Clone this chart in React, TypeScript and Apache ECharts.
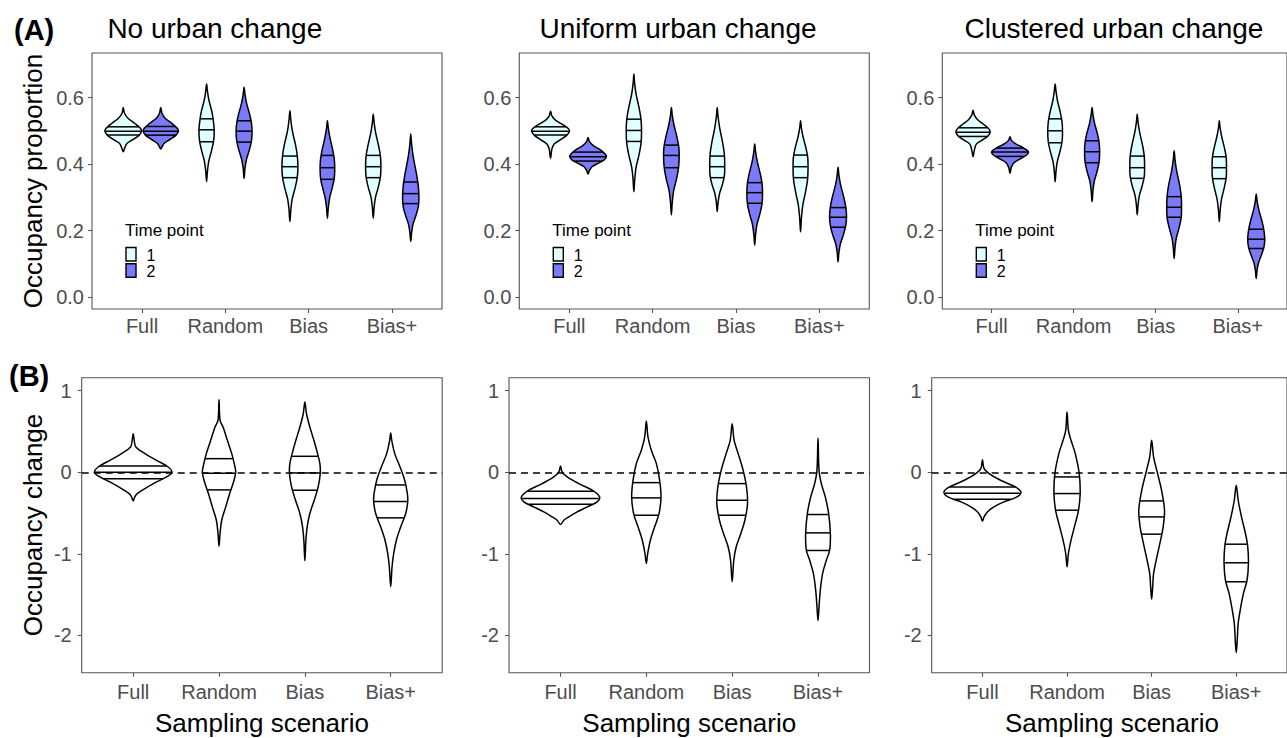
import React, { useEffect, useRef } from "react";
import * as echarts from "echarts";

// ---------- DATA ----------
const scenarios = ["Full", "Random", "Bias", "Bias+"];
const panelTitles = ["No urban change", "Uniform urban change", "Clustered urban change"];
const timePoints = ["1", "2"];
const topTicks = [0, 0.2, 0.4, 0.6];
const bottomTicks = [-2, -1, 0, 1];

// Violin profiles: [value, half-width in category units], listed from top tip to bottom tip.
// Row A: occupancy proportion, time point 1 and 2
const noChangeT1 = [
  [[0.570, 0], [0.552, 0.016], [0.537, 0.06], [0.522, 0.14], [0.507, 0.208], [0.499, 0.22], [0.487, 0.192], [0.474, 0.12], [0.462, 0.044], [0.447, 0.016], [0.437, 0]],
  [[0.641, 0], [0.620, 0.01], [0.592, 0.028], [0.557, 0.064], [0.528, 0.082], [0.500, 0.092], [0.469, 0.084], [0.439, 0.058], [0.408, 0.026], [0.378, 0.01], [0.347, 0]],
  [[0.560, 0], [0.535, 0.01], [0.501, 0.028], [0.459, 0.066], [0.426, 0.088], [0.392, 0.096], [0.359, 0.088], [0.326, 0.06], [0.293, 0.026], [0.260, 0.01], [0.227, 0]],
  [[0.550, 0], [0.526, 0.01], [0.495, 0.028], [0.455, 0.064], [0.424, 0.086], [0.392, 0.092], [0.361, 0.086], [0.330, 0.06], [0.299, 0.026], [0.268, 0.01], [0.237, 0]],
];
const noChangeT1Q = [[0.487, 0.499, 0.512], [0.467, 0.503, 0.536], [0.359, 0.392, 0.424], [0.359, 0.392, 0.426]];

const noChangeT2 = [
  [[0.570, 0], [0.552, 0.016], [0.537, 0.056], [0.522, 0.136], [0.507, 0.2], [0.499, 0.212], [0.487, 0.184], [0.474, 0.112], [0.462, 0.04], [0.452, 0.016], [0.445, 0]],
  [[0.631, 0], [0.611, 0.01], [0.583, 0.03], [0.550, 0.066], [0.524, 0.088], [0.497, 0.096], [0.469, 0.088], [0.441, 0.062], [0.413, 0.028], [0.385, 0.01], [0.357, 0]],
  [[0.530, 0], [0.509, 0.01], [0.480, 0.03], [0.444, 0.062], [0.416, 0.082], [0.387, 0.088], [0.357, 0.082], [0.327, 0.056], [0.297, 0.026], [0.267, 0.01], [0.237, 0]],
  [[0.490, 0], [0.461, 0.01], [0.422, 0.03], [0.374, 0.066], [0.336, 0.09], [0.297, 0.098], [0.271, 0.09], [0.245, 0.062], [0.220, 0.028], [0.193, 0.01], [0.167, 0]],
];
const noChangeT2Q = [[0.487, 0.499, 0.513], [0.466, 0.499, 0.530], [0.354, 0.389, 0.426], [0.281, 0.311, 0.346]];

const uniformT1 = [
  [[0.559, 0], [0.545, 0.016], [0.532, 0.06], [0.519, 0.144], [0.507, 0.212], [0.499, 0.228], [0.487, 0.196], [0.474, 0.124], [0.460, 0.044], [0.445, 0.016], [0.430, 0.008], [0.417, 0]],
  [[0.671, 0], [0.645, 0.008], [0.611, 0.026], [0.567, 0.064], [0.533, 0.086], [0.499, 0.092], [0.463, 0.086], [0.426, 0.06], [0.390, 0.026], [0.353, 0.01], [0.317, 0]],
  [[0.570, 0], [0.543, 0.01], [0.508, 0.03], [0.463, 0.066], [0.428, 0.086], [0.392, 0.09], [0.365, 0.086], [0.338, 0.062], [0.311, 0.028], [0.284, 0.01], [0.257, 0]],
  [[0.530, 0], [0.509, 0.01], [0.482, 0.03], [0.447, 0.066], [0.420, 0.086], [0.392, 0.09], [0.353, 0.084], [0.314, 0.058], [0.275, 0.026], [0.236, 0.01], [0.196, 0]],
];
const uniformT1Q = [[0.487, 0.499, 0.512], [0.468, 0.501, 0.535], [0.359, 0.392, 0.424], [0.359, 0.392, 0.427]];

const uniformT2 = [
  [[0.480, 0], [0.468, 0.016], [0.456, 0.06], [0.444, 0.14], [0.430, 0.205], [0.422, 0.22], [0.412, 0.19], [0.402, 0.12], [0.392, 0.048], [0.380, 0.016], [0.370, 0]],
  [[0.570, 0], [0.548, 0.01], [0.519, 0.03], [0.482, 0.066], [0.453, 0.088], [0.429, 0.094], [0.389, 0.086], [0.353, 0.06], [0.318, 0.026], [0.282, 0.01], [0.247, 0]],
  [[0.460, 0], [0.438, 0.01], [0.408, 0.03], [0.371, 0.066], [0.342, 0.088], [0.312, 0.094], [0.281, 0.088], [0.250, 0.062], [0.219, 0.028], [0.187, 0.01], [0.156, 0]],
  [[0.390, 0], [0.368, 0.01], [0.338, 0.03], [0.301, 0.068], [0.272, 0.092], [0.242, 0.102], [0.215, 0.092], [0.187, 0.064], [0.160, 0.028], [0.133, 0.01], [0.106, 0]],
];
const uniformT2Q = [[0.409, 0.422, 0.436], [0.389, 0.426, 0.457], [0.282, 0.314, 0.344], [0.210, 0.240, 0.269]];

const clusteredT1 = [
  [[0.562, 0], [0.547, 0.016], [0.533, 0.056], [0.519, 0.13], [0.505, 0.195], [0.495, 0.208], [0.484, 0.18], [0.472, 0.112], [0.460, 0.04], [0.442, 0.016], [0.422, 0]],
  [[0.641, 0], [0.620, 0.01], [0.591, 0.028], [0.554, 0.064], [0.526, 0.084], [0.497, 0.09], [0.467, 0.084], [0.437, 0.058], [0.407, 0.026], [0.377, 0.01], [0.347, 0]],
  [[0.550, 0], [0.526, 0.01], [0.495, 0.03], [0.455, 0.066], [0.424, 0.086], [0.392, 0.09], [0.363, 0.086], [0.334, 0.06], [0.305, 0.026], [0.276, 0.01], [0.247, 0]],
  [[0.530, 0], [0.509, 0.01], [0.482, 0.03], [0.447, 0.064], [0.420, 0.084], [0.392, 0.088], [0.359, 0.084], [0.326, 0.058], [0.293, 0.026], [0.260, 0.01], [0.227, 0]],
];
const clusteredT1Q = [[0.483, 0.496, 0.509], [0.464, 0.500, 0.536], [0.357, 0.389, 0.424], [0.356, 0.389, 0.422]];

const clusteredT2 = [
  [[0.482, 0], [0.472, 0.016], [0.462, 0.06], [0.452, 0.14], [0.441, 0.21], [0.434, 0.224], [0.425, 0.19], [0.415, 0.12], [0.404, 0.048], [0.390, 0.016], [0.372, 0]],
  [[0.570, 0], [0.550, 0.01], [0.523, 0.03], [0.490, 0.066], [0.464, 0.086], [0.437, 0.092], [0.407, 0.086], [0.377, 0.06], [0.347, 0.026], [0.317, 0.01], [0.287, 0]],
  [[0.440, 0], [0.414, 0.01], [0.380, 0.03], [0.338, 0.066], [0.304, 0.086], [0.270, 0.09], [0.239, 0.086], [0.208, 0.06], [0.177, 0.026], [0.147, 0.01], [0.116, 0]],
  [[0.310, 0], [0.290, 0.01], [0.262, 0.032], [0.228, 0.07], [0.200, 0.094], [0.174, 0.104], [0.150, 0.094], [0.127, 0.064], [0.103, 0.028], [0.080, 0.01], [0.056, 0]],
];
const clusteredT2Q = [[0.423, 0.436, 0.448], [0.404, 0.437, 0.470], [0.240, 0.270, 0.302], [0.146, 0.174, 0.204]];

// Row B: occupancy change
const noChangeDiff = [
  [[0.473, 0], [0.392, 0.012], [0.310, 0.031], [0.229, 0.136], [0.147, 0.272], [0.065, 0.408], [0, 0.451], [-0.057, 0.389], [-0.118, 0.272], [-0.2, 0.136], [-0.261, 0.047], [-0.302, 0.019], [-0.351, 0]],
  [[0.890, 0], [0.637, 0.012], [0.555, 0.047], [0.392, 0.097], [0.229, 0.148], [0.065, 0.186], [0, 0.194], [-0.098, 0.175], [-0.261, 0.124], [-0.424, 0.078], [-0.588, 0.031], [-0.751, 0.012], [-0.906, 0]],
  [[0.861, 0], [0.718, 0.019], [0.555, 0.058], [0.392, 0.105], [0.229, 0.148], [0.106, 0.175], [-0.016, 0.179], [-0.18, 0.155], [-0.343, 0.109], [-0.506, 0.058], [-0.669, 0.027], [-0.833, 0.012], [-1.086, 0]],
  [[0.482, 0], [0.392, 0.012], [0.229, 0.047], [0.065, 0.109], [-0.098, 0.163], [-0.261, 0.194], [-0.363, 0.198], [-0.506, 0.175], [-0.669, 0.117], [-0.833, 0.066], [-0.996, 0.035], [-1.159, 0.016], [-1.404, 0]],
];
const noChangeDiffQ = [[-0.078, 0, 0.078], [-0.216, -0.012, 0.167], [-0.22, -0.008, 0.196], [-0.559, -0.359, -0.155]];

const uniformDiff = [
  [[0.078, 0], [0.004, 0.019], [-0.057, 0.078], [-0.139, 0.214], [-0.22, 0.369], [-0.302, 0.455], [-0.363, 0.427], [-0.424, 0.311], [-0.486, 0.194], [-0.547, 0.097], [-0.588, 0.039], [-0.641, 0]],
  [[0.629, 0], [0.433, 0.019], [0.269, 0.058], [0.106, 0.117], [-0.098, 0.155], [-0.302, 0.171], [-0.506, 0.148], [-0.669, 0.097], [-0.833, 0.047], [-0.996, 0.016], [-1.118, 0]],
  [[0.596, 0], [0.392, 0.023], [0.229, 0.07], [0.024, 0.128], [-0.18, 0.167], [-0.384, 0.179], [-0.588, 0.148], [-0.751, 0.101], [-0.914, 0.047], [-1.078, 0.019], [-1.343, 0]],
  [[0.42, 0], [0.024, 0.012], [-0.139, 0.039], [-0.302, 0.085], [-0.506, 0.124], [-0.751, 0.144], [-0.955, 0.136], [-1.078, 0.097], [-1.241, 0.054], [-1.445, 0.027], [-1.649, 0.012], [-1.82, 0]],
];
const uniformDiffQ = [[-0.392, -0.322, -0.233], [-0.527, -0.314, -0.127], [-0.527, -0.343, -0.139], [-0.959, -0.743, -0.518]];

const clusteredDiff = [
  [[0.155, 0], [0.045, 0.019], [-0.016, 0.078], [-0.098, 0.214], [-0.18, 0.389], [-0.241, 0.455], [-0.302, 0.408], [-0.363, 0.253], [-0.424, 0.136], [-0.486, 0.058], [-0.547, 0.019], [-0.6, 0]],
  [[0.739, 0], [0.514, 0.016], [0.392, 0.047], [0.229, 0.097], [-0.016, 0.144], [-0.261, 0.155], [-0.465, 0.136], [-0.629, 0.097], [-0.833, 0.047], [-0.996, 0.016], [-1.159, 0]],
  [[0.392, 0], [0.188, 0.023], [-0.016, 0.07], [-0.22, 0.117], [-0.465, 0.152], [-0.669, 0.136], [-0.873, 0.097], [-1.078, 0.054], [-1.241, 0.023], [-1.404, 0.012], [-1.555, 0]],
  [[-0.159, 0], [-0.343, 0.023], [-0.547, 0.062], [-0.751, 0.109], [-0.914, 0.136], [-1.118, 0.144], [-1.322, 0.128], [-1.486, 0.085], [-1.649, 0.054], [-1.853, 0.023], [-2.057, 0.012], [-2.212, 0]],
];
const clusteredDiffQ = [[-0.331, -0.257, -0.18], [-0.465, -0.261, -0.057], [-0.759, -0.547, -0.351], [-1.343, -1.110, -0.882]];

// ---------- LAYOUT / STYLE ----------
const FONT = "'Liberation Sans', Arial, Helvetica, sans-serif";
const FILL_T1 = "#E0FFFF";
const FILL_T2 = "#7B7BFA";
const FRAME = "#555555";
const TICK_TEXT = "#4D4D4D";
const STROKE_W = 1.5;

const topLefts = [92, 519.3, 942.3];
const topWidth = 350;
const topTop = 53;
const topHeight = 256;
const bottomLefts = [81.7, 509, 931.7];
const bottomWidth = 360.5;
const bottomTop = 377.7;
const bottomHeight = 295;

function widthAt(profile: number[][], q: number): number {
  for (let k = 0; k < profile.length - 1; k++) {
    const [v0, w0] = profile[k];
    const [v1, w1] = profile[k + 1];
    if ((q <= v0 && q >= v1) || (q >= v0 && q <= v1)) {
      const t = v1 === v0 ? 0 : (q - v0) / (v1 - v0);
      return w0 + t * (w1 - w0);
    }
  }
  return 0;
}

function makeViolinRenderer(profiles: number[][][], quarts: number[][], offset: number, fill: string) {
  return (params: any, api: any) => {
    const i = params.dataIndex;
    const prof = profiles[i];
    const cx = i + 1 + offset;
    const right: number[][] = prof.map(([v, w]) => api.coord([cx + w, v]));
    const leftRev: number[][] = prof.map(([v, w]) => api.coord([cx - w, v])).reverse();
    const pts = right.concat(leftRev.slice(1, leftRev.length - 1));
    const children: any[] = [
      {
        type: "polygon",
        shape: { points: pts, smooth: 0.35 },
        style: { fill, stroke: "#000", lineWidth: STROKE_W },
      },
    ];
    quarts[i].forEach((q) => {
      const w = widthAt(prof, q);
      const a = api.coord([cx - w, q]);
      const b = api.coord([cx + w, q]);
      children.push({
        type: "line",
        shape: { x1: a[0], y1: a[1], x2: b[0], y2: b[1] },
        style: { stroke: "#000", lineWidth: STROKE_W },
      });
    });
    return { type: "group", children };
  };
}

export default function App() {
  const ref = useRef<HTMLDivElement>(null);

  useEffect(() => {
    if (!ref.current) return;
    const chart = echarts.init(ref.current, null, { renderer: "svg" });

    const grids: any[] = new Array(6);
    const xAxes: any[] = new Array(6);
    const yAxes: any[] = new Array(6);
    const series: any[] = [];
    const graphics: any[] = [];

    const topSets = [
      [noChangeT1, noChangeT1Q, noChangeT2, noChangeT2Q],
      [uniformT1, uniformT1Q, uniformT2, uniformT2Q],
      [clusteredT1, clusteredT1Q, clusteredT2, clusteredT2Q],
    ] as any[];
    const bottomSets = [
      [noChangeDiff, noChangeDiffQ],
      [uniformDiff, uniformDiffQ],
      [clusteredDiff, clusteredDiffQ],
    ] as any[];

    const xAxisBase = (gridIndex: number, margin: number) => ({
      type: "value",
      gridIndex,
      min: 0.4,
      max: 4.6,
      splitLine: { show: false },
      axisLine: { show: false, onZero: false },
      axisTick: { show: true, customValues: [1, 2, 3, 4], length: 4, lineStyle: { color: FRAME, width: 1.1 } },
      axisLabel: {
        customValues: [1, 2, 3, 4],
        formatter: (v: number) => scenarios[Math.round(v) - 1] ?? "",
        fontSize: 20,
        fontFamily: FONT,
        color: TICK_TEXT,
        margin,
      },
    });

    for (let p = 0; p < 3; p++) {
      // top grid
      const gi = p;
      grids[gi] = {
        left: topLefts[p],
        top: topTop,
        width: topWidth,
        height: topHeight,
        show: true,
        borderColor: FRAME,
        borderWidth: 1.1,
        backgroundColor: "transparent",
      };
      xAxes[gi] = xAxisBase(gi, 7);
      yAxes[gi] = {
        type: "value",
        gridIndex: gi,
        min: -0.036,
        max: 0.734,
        splitLine: { show: false },
        axisLine: { show: false, onZero: false },
        axisTick: { show: true, customValues: topTicks, length: 4, lineStyle: { color: FRAME, width: 1.1 } },
        axisLabel: {
          customValues: topTicks,
          formatter: (v: number) => v.toFixed(1),
          fontSize: 20,
          fontFamily: FONT,
          color: TICK_TEXT,
          margin: 8,
        },
      };
      const [t1, t1q, t2, t2q] = topSets[p];
      series.push({
        type: "custom",
        xAxisIndex: gi,
        yAxisIndex: gi,
        renderItem: makeViolinRenderer(t1, t1q, -0.225, FILL_T1),
        data: scenarios.map((_, i) => [i + 1, t1q[i][1]]),
        silent: true,
      });
      series.push({
        type: "custom",
        xAxisIndex: gi,
        yAxisIndex: gi,
        renderItem: makeViolinRenderer(t2, t2q, 0.225, FILL_T2),
        data: scenarios.map((_, i) => [i + 1, t2q[i][1]]),
        silent: true,
      });

      // legend inside top panel
      const lx = topLefts[p] + 33;
      graphics.push({
        type: "text",
        x: lx,
        y: 230,
        style: { text: "Time point", font: `17px ${FONT}`, fill: "#000", align: "left", verticalAlign: "middle" },
      });
      [FILL_T1, FILL_T2].forEach((c, k) => {
        graphics.push({
          type: "rect",
          shape: { x: lx + 1, y: 247.5 + k * 16.3, width: 10, height: 13.5 },
          style: { fill: c, stroke: "#000", lineWidth: 1.4 },
        });
        graphics.push({
          type: "text",
          x: lx + 21.5,
          y: 255 + k * 16.3,
          style: { text: timePoints[k], font: `16px ${FONT}`, fill: "#000", align: "left", verticalAlign: "middle" },
        });
      });

      // panel title
      graphics.push({
        type: "text",
        x: [214.8, 678, 1114][p],
        y: 28,
        style: { text: panelTitles[p], font: `28px ${FONT}`, fill: "#000", align: "center", verticalAlign: "middle" },
      });

      // bottom grid
      const bi = p + 3;
      grids[bi] = {
        left: bottomLefts[p],
        top: bottomTop,
        width: bottomWidth,
        height: bottomHeight,
        show: true,
        borderColor: FRAME,
        borderWidth: 1.1,
        backgroundColor: "transparent",
      };
      xAxes[bi] = xAxisBase(bi, 9);
      yAxes[bi] = {
        type: "value",
        gridIndex: bi,
        min: -2.458,
        max: 1.16,
        splitLine: { show: false },
        axisLine: { show: false, onZero: false },
        axisTick: { show: true, customValues: bottomTicks, length: 4, lineStyle: { color: FRAME, width: 1.1 } },
        axisLabel: {
          customValues: bottomTicks,
          formatter: (v: number) => String(v),
          fontSize: 20,
          fontFamily: FONT,
          color: TICK_TEXT,
          margin: 10,
        },
      };
      const [d, dq] = bottomSets[p];
      series.push({
        type: "custom",
        xAxisIndex: bi,
        yAxisIndex: bi,
        renderItem: makeViolinRenderer(d, dq, 0, "#FFFFFF"),
        data: scenarios.map((_, i) => [i + 1, dq[i][1]]),
        silent: true,
        z: 2,
        markLine: {
          silent: true,
          symbol: "none",
          label: { show: false },
          lineStyle: { color: "#000", type: [7, 5], width: 1.7 },
          data: [{ yAxis: 0 }],
          z: 5,
        },
      });

      // x-axis title
      graphics.push({
        type: "text",
        x: bottomLefts[p] + bottomWidth / 2,
        y: 723,
        style: { text: "Sampling scenario", font: `26px ${FONT}`, fill: "#000", align: "center", verticalAlign: "middle" },
      });
    }

    graphics.push({
      type: "text",
      x: 14,
      y: 30,
      style: { text: "(A)", font: `bold 29px ${FONT}`, fill: "#000", align: "left", verticalAlign: "middle" },
    });
    graphics.push({
      type: "text",
      x: 9,
      y: 376,
      style: { text: "(B)", font: `bold 29px ${FONT}`, fill: "#000", align: "left", verticalAlign: "middle" },
    });
    graphics.push({
      type: "text",
      x: 33,
      y: 181,
      rotation: Math.PI / 2,
      style: { text: "Occupancy proportion", font: `26px ${FONT}`, fill: "#000", align: "center", verticalAlign: "middle" },
    });
    graphics.push({
      type: "text",
      x: 33,
      y: 525,
      rotation: Math.PI / 2,
      style: { text: "Occupancy change", font: `26px ${FONT}`, fill: "#000", align: "center", verticalAlign: "middle" },
    });

    chart.setOption({
      animation: false,
      backgroundColor: "#FFFFFF",
      grid: grids,
      xAxis: xAxes,
      yAxis: yAxes,
      series,
      graphic: { elements: graphics },
    });

    return () => chart.dispose();
  }, []);

  return (
    <div
      ref={ref}
      style={{ position: "fixed", left: 0, top: 0, width: 1287, height: 738, background: "#fff" }}
    />
  );
}
